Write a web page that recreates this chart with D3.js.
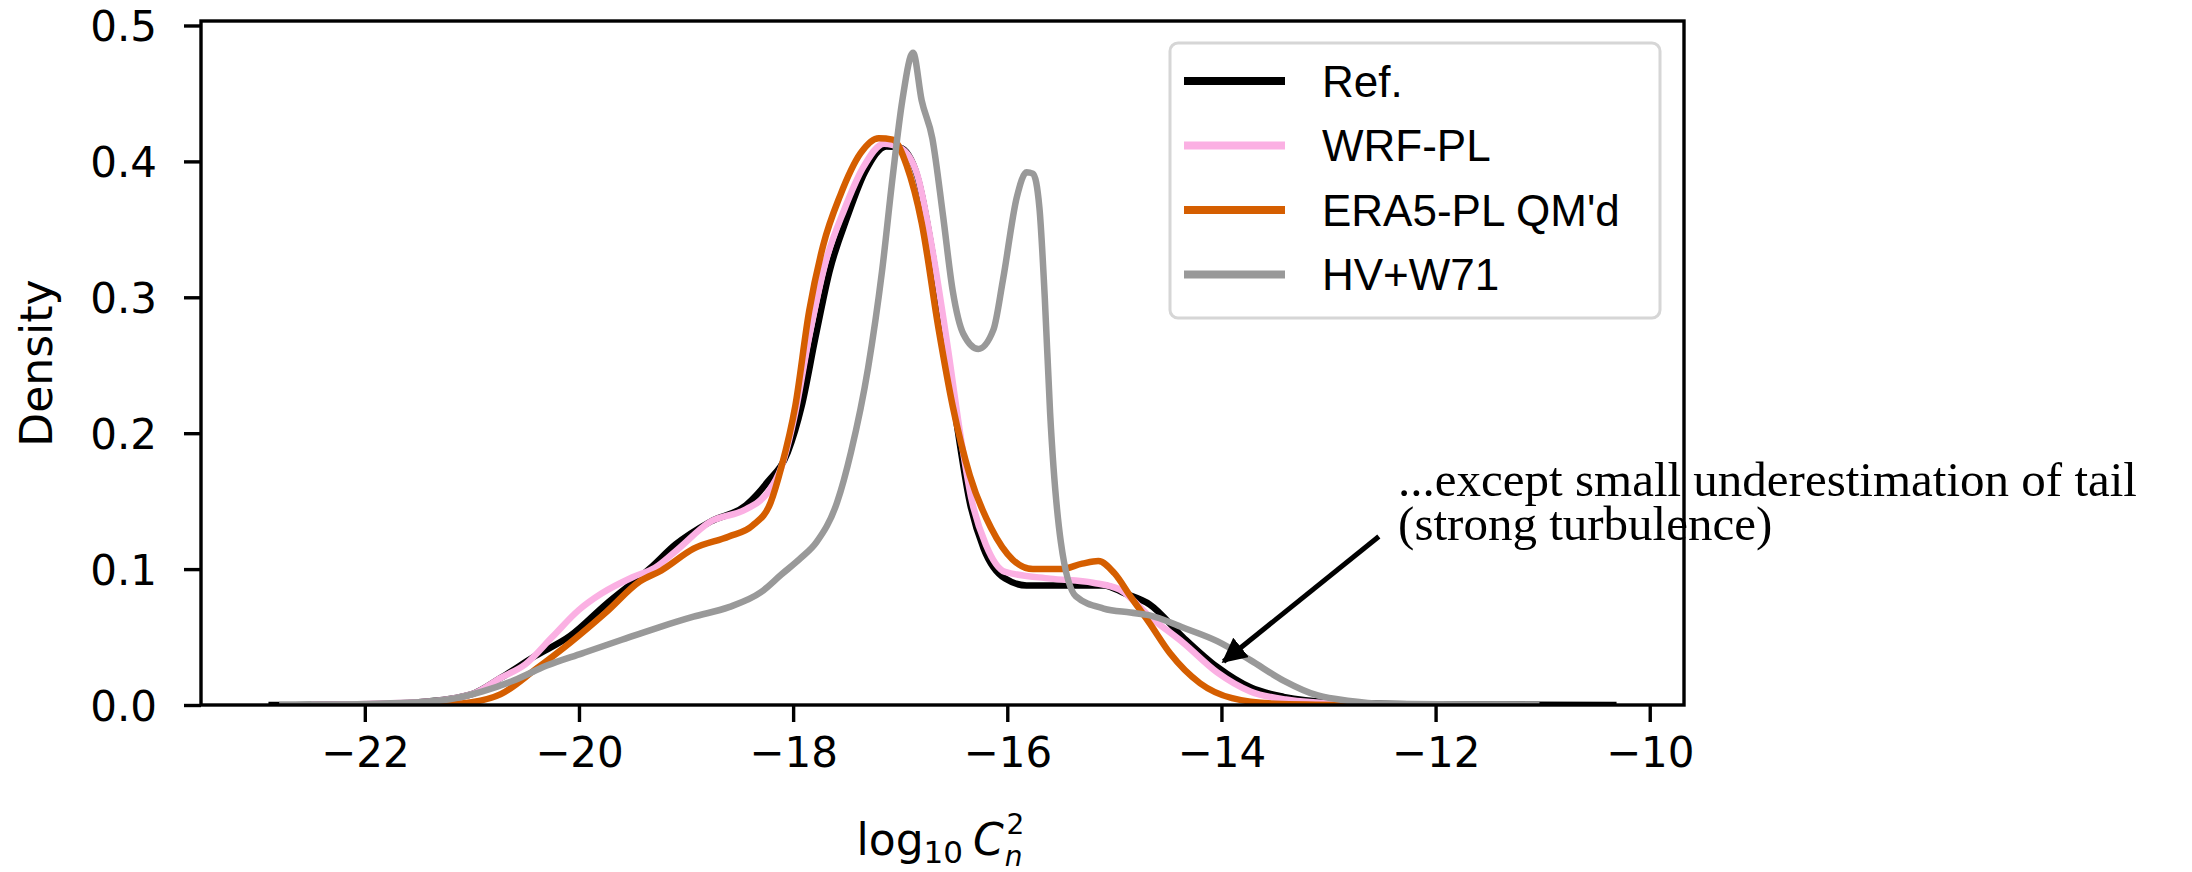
<!DOCTYPE html>
<html>
<head>
<meta charset="utf-8">
<script src="https://cdn.jsdelivr.net/npm/d3@7"></script>
<style>
  body { margin: 0; background: #fff; }
  svg { display: block; }
</style>
</head>
<body>
<div id="kde"></div>
<script>
// [log10 Cn2, density] pairs
const refCurve = [[-22.9,0],[-22,0.0005],[-21.5,0.002],[-21,0.008],[-20.73,0.02],[-20.41,0.036],[-20.08,0.051],[-19.75,0.074],[-19.33,0.101],[-19.1,0.118],[-18.77,0.135],[-18.44,0.147],[-18.24,0.164],[-18.05,0.186],[-17.92,0.22],[-17.79,0.271],[-17.66,0.319],[-17.49,0.36],[-17.33,0.392],[-17.13,0.411],[-17.0,0.41],[-16.84,0.389],[-16.7,0.333],[-16.57,0.262],[-16.47,0.206],[-16.35,0.149],[-16.22,0.115],[-16.02,0.093],[-15.82,0.088],[-15.4,0.088],[-15.1,0.088],[-14.9,0.082],[-14.67,0.074],[-14.36,0.05],[-14.04,0.028],[-13.73,0.013],[-13.42,0.006],[-12.96,0.002],[-12,0.0003],[-10.31,0]];
const wrfCurve = [[-22.5,0],[-21.5,0.002],[-21,0.008],[-20.73,0.02],[-20.5,0.03],[-20.25,0.05],[-20.0,0.07],[-19.79,0.082],[-19.5,0.094],[-19.29,0.101],[-19.1,0.113],[-18.77,0.135],[-18.44,0.144],[-18.24,0.156],[-18.11,0.175],[-17.98,0.215],[-17.85,0.271],[-17.7,0.325],[-17.52,0.365],[-17.35,0.395],[-17.15,0.413],[-17.0,0.41],[-16.84,0.39],[-16.7,0.335],[-16.55,0.26],[-16.45,0.205],[-16.33,0.15],[-16.2,0.118],[-16.02,0.098],[-15.6,0.093],[-15.2,0.09],[-14.95,0.085],[-14.67,0.065],[-14.36,0.046],[-14.04,0.024],[-13.73,0.01],[-13.4,0.004],[-12.9,0.001],[-12,0]];
const era5Curve = [[-22,0],[-21.3,0],[-21.0,0.002],[-20.73,0.008],[-20.41,0.026],[-20.08,0.046],[-19.75,0.068],[-19.43,0.091],[-19.23,0.099],[-18.93,0.115],[-18.6,0.124],[-18.38,0.132],[-18.21,0.149],[-18.11,0.175],[-17.98,0.22],[-17.85,0.29],[-17.72,0.338],[-17.56,0.375],[-17.37,0.406],[-17.2,0.417],[-17.07,0.416],[-16.94,0.397],[-16.8,0.355],[-16.64,0.276],[-16.51,0.22],[-16.35,0.169],[-16.15,0.13],[-15.95,0.107],[-15.76,0.1],[-15.5,0.1],[-15.3,0.104],[-15.15,0.106],[-15.0,0.097],[-14.85,0.08],[-14.67,0.06],[-14.48,0.038],[-14.2,0.016],[-13.9,0.005],[-13.5,0.001],[-12.8,0]];
const hvCurve = [[-22.8,0],[-22,0.0008],[-21.5,0.002],[-21.22,0.004],[-20.9,0.01],[-20.61,0.018],[-20.3,0.029],[-19.97,0.038],[-19.6,0.048],[-19.26,0.057],[-18.93,0.065],[-18.6,0.072],[-18.3,0.083],[-18.11,0.096],[-17.93,0.108],[-17.78,0.12],[-17.59,0.149],[-17.46,0.186],[-17.3,0.248],[-17.17,0.319],[-17.07,0.389],[-16.98,0.445],[-16.88,0.48],[-16.8,0.445],[-16.7,0.417],[-16.6,0.36],[-16.51,0.305],[-16.41,0.273],[-16.27,0.262],[-16.13,0.276],[-16.04,0.313],[-15.91,0.374],[-15.82,0.392],[-15.76,0.391],[-15.7,0.366],[-15.65,0.30],[-15.6,0.215],[-15.5,0.12],[-15.36,0.08],[-15.1,0.071],[-14.85,0.068],[-14.67,0.066],[-14.36,0.057],[-14.04,0.047],[-13.73,0.033],[-13.42,0.018],[-13.1,0.007],[-12.8,0.003],[-12.5,0.001],[-11.03,0]];

const seriesNames = ['Ref.', 'WRF-PL', "ERA5-PL QM'd", 'HV+W71'];
const seriesColors = ['#000000', '#fbb0e3', '#d55e00', '#999999'];
const seriesData = [refCurve, wrfCurve, era5Curve, hvCurve];

const xTicks = [-22, -20, -18, -16, -14, -12, -10];
const yTicks = [0, 0.1, 0.2, 0.3, 0.4, 0.5];
const noteLines = ['...except small underestimation of tail', '(strong turbulence)'];
const noteAt = [-12.35, 0.1535];     // text anchor (data units)
const arrowFrom = [-12.53, 0.124];
const arrowTo = [-13.98, 0.032];

const W = 2192, H = 872;
const margin = { top: 21, right: 508, bottom: 167, left: 201 };
const width = W - margin.left - margin.right;
const height = H - margin.top - margin.bottom;

const svg = d3.select('#kde').append('svg')
  .attr('width', W).attr('height', H);
const g = svg.append('g')
  .attr('transform', `translate(${margin.left},${margin.top})`);

const x = d3.scaleLinear().domain([-23.53, -9.68]).range([0, width]);
const y = d3.scaleLinear().domain([0, 0.5033]).range([height, 0]);

const line = d3.line()
  .x(d => x(d[0]))
  .y(d => y(d[1]))
  .curve(d3.curveMonotoneX);

svg.append('clipPath').attr('id', 'plot-clip')
  .append('rect').attr('x', 0).attr('y', -10).attr('width', width).attr('height', height + 10);

seriesData.forEach((pts, i) => {
  g.append('path')
    .attr('d', line(pts))
    .attr('fill', 'none')
    .attr('stroke', seriesColors[i])
    .attr('stroke-width', 6.5)
    .attr('stroke-linejoin', 'round')
    .attr('clip-path', 'url(#plot-clip)');
});

// axes
const tickFont = '"DejaVu Sans", sans-serif';
const xAxis = g.append('g')
  .attr('transform', `translate(0,${height})`)
  .call(d3.axisBottom(x).tickValues(xTicks).tickSize(17).tickPadding(14)
    .tickFormat(d => d3.format('d')(d).replace('-', '\u2212')));
const yAxis = g.append('g')
  .call(d3.axisLeft(y).tickValues(yTicks).tickSize(17).tickPadding(27)
    .tickFormat(d3.format('.1f')));

[xAxis, yAxis].forEach(a => {
  a.select('.domain').remove();
  a.selectAll('.tick line').attr('stroke', '#000').attr('stroke-width', 3.4);
  a.selectAll('.tick text')
    .attr('fill', '#000')
    .style('font-family', tickFont)
    .style('font-size', '42px');
});
yAxis.selectAll('.tick text').attr('dy', '0.36em');
xAxis.selectAll('.tick text').attr('dy', '0.73em');

g.append('rect')
  .attr('width', width).attr('height', height)
  .attr('fill', 'none').attr('stroke', '#000').attr('stroke-width', 3.4);

// axis labels
g.append('text')
  .attr('transform', `translate(${-149},${height / 2}) rotate(-90)`)
  .attr('text-anchor', 'middle')
  .style('font-family', tickFont)
  .style('font-size', '44px')
  .text('Density');

// log10 C_n^2 as one text run with sub/superscripts
const xl = g.append('text')
  .attr('x', width / 2 - 86)
  .attr('y', 834)
  .style('font-family', tickFont)
  .style('font-size', '44px');
xl.append('tspan').text('log');
xl.append('tspan').attr('dy', 8).style('font-size', '31px').text('10');
xl.append('tspan').attr('dy', -8).attr('dx', 10).style('font-style', 'italic').text('C');
xl.append('tspan').attr('dy', 11).attr('dx', 1).style('font-style', 'italic').style('font-size', '28px').text('n');
xl.append('tspan').attr('dy', -32).attr('dx', -16).style('font-size', '28px').text('2');

// legend
const leg = g.append('g').attr('transform', `translate(${1170 - margin.left},${43 - margin.top})`);
leg.append('rect')
  .attr('width', 490).attr('height', 275).attr('rx', 8)
  .attr('fill', '#fff').attr('fill-opacity', 0.8)
  .attr('stroke', '#d6d6d6').attr('stroke-width', 3);
seriesNames.forEach((name, i) => {
  const cy = 38 + i * 64.5;
  leg.append('line')
    .attr('x1', 14).attr('x2', 115).attr('y1', cy).attr('y2', cy)
    .attr('stroke', seriesColors[i]).attr('stroke-width', 8);
  leg.append('text')
    .attr('x', 152).attr('y', cy).attr('dy', '0.36em')
    .style('font-family', '"Liberation Sans", Arial, sans-serif')
    .style('font-size', '44px')
    .text(name);
});

// annotation
const note = svg.append('text')
  .style('font-family', '"Liberation Serif", "DejaVu Serif", serif')
  .style('font-size', '49px');
noteLines.forEach((t, i) => {
  note.append('tspan')
    .attr('x', margin.left + x(noteAt[0]))
    .attr('y', margin.top + y(noteAt[1]) + i * 44)
    .text(t);
});

svg.append('defs').append('marker')
  .attr('id', 'arrowhead')
  .attr('viewBox', '0 0 10 10')
  .attr('refX', 9).attr('refY', 5)
  .attr('markerWidth', 5).attr('markerHeight', 5)
  .attr('markerUnits', 'strokeWidth')
  .attr('orient', 'auto')
  .append('path').attr('d', 'M0,0 L10,5 L0,10 z').attr('fill', '#000');

g.append('line')
  .attr('x1', x(arrowFrom[0])).attr('y1', y(arrowFrom[1]))
  .attr('x2', x(arrowTo[0])).attr('y2', y(arrowTo[1]))
  .attr('stroke', '#000').attr('stroke-width', 5)
  .attr('marker-end', 'url(#arrowhead)');
</script>
</body>
</html>
